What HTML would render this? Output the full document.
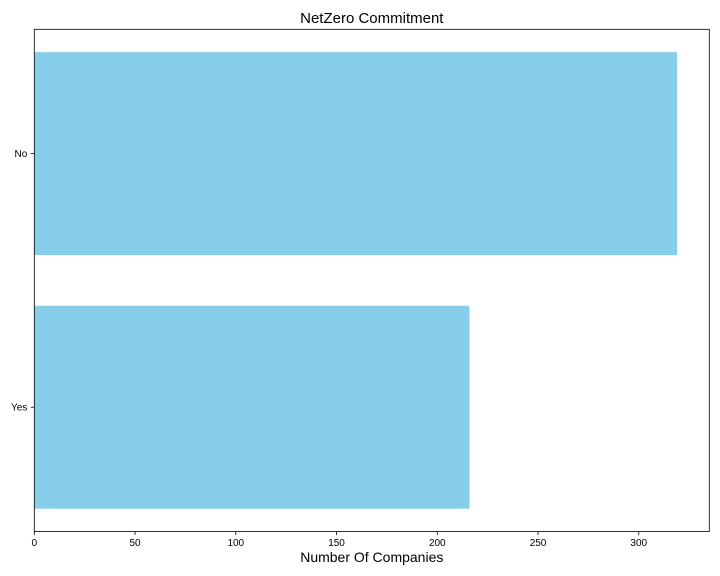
<!DOCTYPE html>
<html><head><meta charset="utf-8"><style>
body{margin:0;background:#fff;}
svg{display:block;font-family:"Liberation Sans","DejaVu Sans",sans-serif;}
</style></head><body>
<svg id="chart" width="720" height="576"></svg>
<script>
const categories = ["No", "Yes"];
const values = [319, 216];
const xTicks = [0, 50, 100, 150, 200, 250, 300];
const xMax = 335;

const NS = "http://www.w3.org/2000/svg";
const svg = document.getElementById("chart");
const L = 34.3, R = 709.3, T = 29.3, B = 531.5;
const xs = v => L + v / xMax * (R - L);
// categorical y axis: index 0 at bottom, limits -0.49..(n-1)+0.49
const yMin = -0.49, yMax = categories.length - 1 + 0.49;
const ys = v => B - (v - yMin) / (yMax - yMin) * (B - T);
const pos = i => categories.length - 1 - i;
function mk(tag, attrs, parent) {
  const e = document.createElementNS(NS, tag);
  for (const k in attrs) e.setAttribute(k, attrs[k]);
  (parent || svg).appendChild(e);
  return e;
}
categories.forEach((c, i) => {
  const p = pos(i);
  const y0 = ys(p + 0.4), y1 = ys(p - 0.4);
  const r = mk("rect", {x: xs(0), y: y0, width: xs(values[i]) - xs(0), height: y1 - y0, fill: "#87ceeb"});
  
  
  const tk = mk("line", {x1: L - 3.5, x2: L, y1: ys(p), y2: ys(p), stroke: "#000", "stroke-width": 0.8});
  
  
  const t = mk("text", {x: L - 7, y: ys(p) + 3.5, "text-anchor": "end", "font-size": 10});
  t.textContent = c;
  
  
});
xTicks.forEach(v => {
  const tk = mk("line", {x1: xs(v), x2: xs(v), y1: B, y2: B + 3.5, stroke: "#000", "stroke-width": 0.8});
  
  
  const t = mk("text", {x: xs(v), y: B + 14.5, "text-anchor": "middle", "font-size": 10});
  t.textContent = v;
  
  
});
const frame = mk("rect", {x: L, y: T, width: R - L, height: B - T, fill: "none", stroke: "#000", "stroke-width": 0.8});


const title = mk("text", {x: (L + R) / 2, y: 23, "text-anchor": "middle", "font-size": 15});
title.textContent = "NetZero Commitment";


const xl = mk("text", {x: (L + R) / 2, y: 562, "text-anchor": "middle", "font-size": 14});
xl.textContent = "Number Of Companies";


</script>
</body></html>
